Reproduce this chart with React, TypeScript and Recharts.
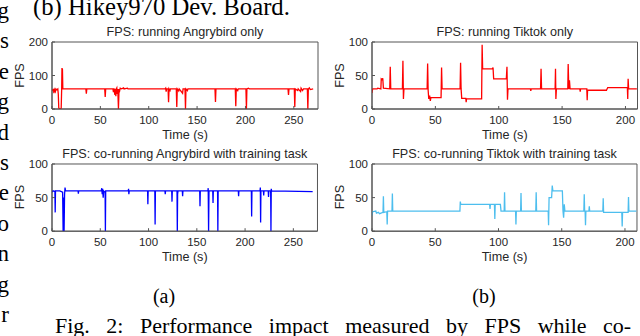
import React from 'react';
import { LineChart, Line, XAxis, YAxis, ReferenceArea } from 'recharts';

// FPS traces, [time (s), fps]
const angryOnly: [number, number][] = [
  [0, 58], [1, 55], [1.5, 60], [2, 47], [2.5, 58], [3.5, 52], [4, 60], [5, 57], [6, 60], [6.5, 45],
  [7, 3], [8, 0], [9, 0], [9.5, 2], [10, 60], [10.3, 122], [10.8, 118], [11.2, 60],
  [35, 60], [35.5, 46], [36, 60], [54.5, 60], [55, 36], [55.5, 60],
  [63, 60], [63.5, 50], [64, 62], [65, 42], [65.5, 60], [66, 38], [66.5, 60], [67, 63], [67.5, 45], [68, 60],
  [68.7, 0], [69.3, 60], [70, 55], [70.5, 62], [72, 60], [74, 63], [74.5, 60], [78, 62], [78.5, 60],
  [117, 60], [117.5, 62], [118, 52], [118.5, 60], [120, 60], [120.5, 20], [121, 60], [122, 55], [122.5, 60],
  [128.5, 60], [129, 6], [129.5, 60], [131, 54], [131.5, 60], [135, 47], [135.5, 60],
  [137.5, 60], [138, 0], [138.5, 60], [140, 55], [140.5, 60],
  [168.5, 60], [169, 21], [169.5, 60], [189.5, 60], [190, 8], [190.5, 60], [192, 55], [192.5, 60],
  [200.5, 60], [201, 0], [201.5, 60], [203, 62], [204, 60],
  [244, 60], [244.5, 42], [245, 60], [250.5, 60], [251, 6], [251.5, 60], [254, 55], [254.5, 60],
  [257, 52], [257.5, 62], [259, 55], [260, 60], [264, 60], [264.5, 0], [265, 60], [266, 63], [267, 58], [270, 60],
];

const tiktokOnly: [number, number][] = [
  [0, 24], [0.5, 30], [4, 30], [4.5, 31], [7, 30], [7.3, 45], [8, 44], [8.5, 46], [9, 31],
  [14, 30], [14.4, 63], [14.8, 30], [24, 30], [24.4, 72], [24.8, 15], [25.2, 30],
  [43.5, 30], [43.9, 68], [44.3, 28], [44.8, 15], [45.5, 20], [46, 12], [46.5, 17],
  [54.5, 17], [54.9, 62], [55.3, 30], [69.5, 30], [69.9, 69], [70.3, 30], [70.8, 16],
  [74, 16], [74.3, 10], [74.6, 15], [86.5, 15], [86.9, 96], [87.3, 60],
  [95, 60], [95.5, 62], [96, 45], [106, 45], [106.5, 63], [106.9, 14], [107.3, 30],
  [125, 30], [125.3, 27], [125.6, 30], [133, 30], [133.4, 60], [133.8, 30],
  [144.5, 30], [144.8, 60], [145.1, 15], [145.5, 30], [154.5, 30], [154.8, 67], [155.3, 30], [155.8, 43], [156.3, 30],
  [164, 30], [164.3, 26], [164.6, 30], [169.5, 30], [169.8, 13], [170.1, 28],
  [185, 28], [186, 32], [201.5, 32], [201.8, 15], [202.1, 45], [202.5, 30], [209, 30],
];

const angryCo: [number, number][] = [
  [0, 58], [1, 60], [3, 59], [3.3, 28], [3.6, 60], [8, 60], [11, 58], [11.5, 0], [12, 50], [12.5, 0],
  [13, 55], [13.5, 65], [14, 60], [27, 60], [27.3, 56], [27.6, 60],
  [51, 60], [51.5, 64], [52, 55], [52.5, 63], [53, 50], [53.5, 60], [55, 58], [55.3, 0], [55.6, 60],
  [79, 60], [79.3, 63], [79.6, 55], [80, 60], [99, 60], [99.3, 40], [99.6, 60],
  [106.5, 60], [106.8, 10], [107.1, 60], [117, 60], [117.3, 55], [117.6, 60],
  [124, 60], [124.3, 44], [124.6, 60], [129.5, 60], [129.8, 0], [130.1, 55], [130.5, 60],
  [135, 60], [135.3, 52], [135.6, 60], [153, 60], [153.3, 37], [153.6, 60],
  [161.5, 60], [161.8, 64], [162.2, 0], [162.6, 60], [166.5, 60], [166.8, 42], [167.1, 60],
  [171.5, 60], [171.8, 0], [172.1, 60], [193, 60], [193.3, 52], [193.6, 60],
  [206.5, 60], [206.8, 22], [207.1, 60], [215.5, 60], [215.8, 65], [216.1, 13], [216.4, 60],
  [219, 60], [219.3, 53], [219.6, 60], [224, 60], [224.3, 51], [224.6, 60],
  [226.5, 60], [226.8, 0], [227.1, 63], [227.5, 60], [270, 59],
];

const tiktokCo: [number, number][] = [
  [0, 23], [0.5, 29], [3, 30], [3.5, 27], [5, 28], [6, 26], [8.7, 28], [9, 52], [9.3, 28],
  [11.7, 29], [12, 10], [12.3, 30], [15.8, 30], [16.1, 56], [16.4, 30],
  [69.5, 30], [69.8, 44], [70.2, 40], [93, 40], [93.3, 33], [93.6, 40],
  [96.8, 40], [97.1, 18], [97.4, 40], [101.5, 40], [102, 30],
  [104.5, 30], [104.8, 58], [105.1, 30], [113.5, 30], [113.8, 10], [114.1, 30],
  [117.5, 30], [117.8, 57], [118.1, 30], [129.5, 30], [129.8, 58], [130.1, 30],
  [139.3, 30], [139.6, 9], [140, 50], [142, 50], [142.5, 68], [143, 60],
  [150.5, 60], [151, 30], [151.5, 20], [152, 40], [152.5, 30],
  [167.5, 30], [167.8, 55], [168.1, 30], [168.5, 30], [168.8, 9], [169.1, 30],
  [171.5, 30], [171.8, 37], [172.1, 30], [182.5, 30], [182.8, 49], [183.1, 28],
  [197.5, 28], [197.8, 7], [198.1, 28], [202.5, 28], [202.8, 51], [203.1, 30], [209, 30],
];

const angryTicks = [0, 50, 100, 150, 200, 250];
const tiktokTicks = [0, 50, 100, 150, 200];
const fpsTicks200 = [0, 100, 200];
const fpsTicks100 = [0, 50, 100];

// right-hand ends of the neighbouring text column
const sideLetters = ['g', 's', 'e', 'g', 'd', 's', 'e', 'o', 'n', 'g', 'r'];

const SANS = 'Liberation Sans, Arial, sans-serif';
const SERIF = 'Liberation Serif, Times New Roman, serif';
const AXIS = '#555';

type Box = [number, number, number, number];

interface PanelProps {
  data: [number, number][];
  color: string;
  xMax: number;
  xTicks: number[];
  yMax: number;
  yTicks: number[];
  box: Box;
}

function Panel({ data, color, xMax, xTicks, yMax, yTicks, box }: PanelProps) {
  const [x0, y0, x1, y1] = box;
  const padL = 40, padT = 6, padR = 6, padB = 30;
  const rows = data.map(([t, fps]) => ({ t, fps }));
  const tickStyle = { fill: '#262626', fontSize: 11.5, fontFamily: SANS };
  return (
    <div style={{ position: 'absolute', left: x0 - padL, top: y0 - padT }}>
      <LineChart
        width={x1 - x0 + padL + padR}
        height={y1 - y0 + padT + padB}
        data={rows}
        margin={{ top: padT, right: padR, left: padL - 36, bottom: padB - 20 }}
      >
        <XAxis
          type="number"
          dataKey="t"
          domain={[0, xMax]}
          ticks={xTicks}
          allowDataOverflow
          height={20}
          stroke={AXIS}
          tickSize={-3}
          tickMargin={9.5}
          tick={tickStyle}
        />
        <YAxis
          type="number"
          domain={[0, yMax]}
          ticks={yTicks}
          allowDataOverflow
          width={36}
          stroke={AXIS}
          tickSize={-3}
          tickMargin={7}
          tick={tickStyle}
        />
        <ReferenceArea x1={0} x2={xMax} y1={0} y2={yMax} fill="none" stroke={AXIS} strokeWidth={1} />
        <Line
          type="linear"
          dataKey="fps"
          stroke={color}
          strokeWidth={1.3}
          dot={false}
          isAnimationActive={false}
        />
      </LineChart>
    </div>
  );
}

const boxes: Box[] = [
  [52, 42, 318, 109],
  [372, 42, 637.5, 109],
  [52, 163.5, 317.5, 230.7],
  [372, 163.5, 637, 230.7],
];

const titles = [
  'FPS: running Angrybird only',
  'FPS: running Tiktok only',
  'FPS: co-running Angrybird with training task',
  'FPS: co-running Tiktok with training task',
];

export default function App() {
  return (
    <div style={{ position: 'absolute', left: 0, top: 0, width: 640, height: 336, overflow: 'hidden', background: '#fff' }}>
      <Panel data={angryOnly} color="#ff0000" xMax={275} xTicks={angryTicks} yMax={200} yTicks={fpsTicks200} box={boxes[0]} />
      <Panel data={tiktokOnly} color="#ff0000" xMax={209.5} xTicks={tiktokTicks} yMax={100} yTicks={fpsTicks100} box={boxes[1]} />
      <Panel data={angryCo} color="#0000ff" xMax={275} xTicks={angryTicks} yMax={100} yTicks={fpsTicks100} box={boxes[2]} />
      <Panel data={tiktokCo} color="#4dbeee" xMax={209.5} xTicks={tiktokTicks} yMax={100} yTicks={fpsTicks100} box={boxes[3]} />
      <svg width={640} height={336} style={{ position: 'absolute', left: 0, top: 0, pointerEvents: 'none' }}>
        <text x={33} y={15} fontFamily={SERIF} fontSize={24.7} fill="#000">(b) Hikey970 Dev. Board.</text>
        {sideLetters.map((ch, i) => (
          <text key={i} x={9} y={18 + i * 30.4} textAnchor="end" fontFamily={SERIF} fontSize={23} fill="#000">{ch}</text>
        ))}
        {boxes.map(([x0, y0, x1, y1], i) => {
          const cx = (x0 + x1) / 2;
          const cy = (y0 + y1) / 2;
          const lx = i % 2 === 0 ? 20 : 340;
          return (
            <g key={i} fontFamily={SANS} fontSize={12.6} fill="#262626">
              <text x={cx} y={y0 - 6} textAnchor="middle">{titles[i]}</text>
              <text x={cx} y={y1 + 30} textAnchor="middle">Time (s)</text>
              <text x={lx} y={cy} textAnchor="middle" dominantBaseline="central" transform={`rotate(-90 ${lx} ${cy})`}>FPS</text>
            </g>
          );
        })}
        <text x={164} y={303} textAnchor="middle" fontFamily={SERIF} fontSize={20} fill="#000">(a)</text>
        <text x={484} y={303} textAnchor="middle" fontFamily={SERIF} fontSize={20} fill="#000">(b)</text>
        <text x={55} y={333} fontFamily={SERIF} fontSize={22} wordSpacing={11} fill="#000">Fig. 2: Performance impact measured by FPS while co-</text>
      </svg>
    </div>
  );
}
